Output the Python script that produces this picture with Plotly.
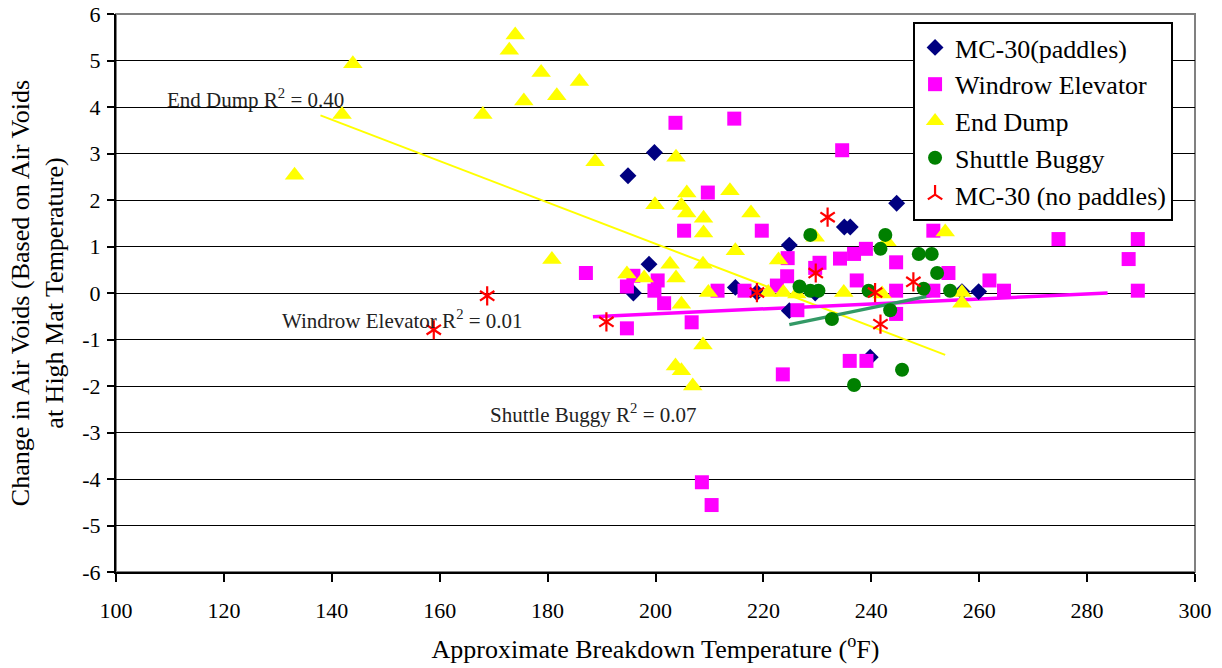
import plotly.graph_objects as pgo

#---
#- Data
#---
mc30_paddles_x = [194.9, 199.8, 198.8, 195.9, 214.8, 218.8, 224.8, 224.8, 235.0, 236.1, 244.7, 239.8, 259.9, 229.6, 256.8]
mc30_paddles_y = [2.52, 3.02, 0.62, 0.0, 0.12, 0.01, 1.03, -0.38, 1.42, 1.42, 1.93, -1.38, 0.03, 0.0, 0.03]

windrow_x = [203.7, 214.6, 234.6, 209.7, 205.3, 219.7, 187.1, 224.5, 230.4, 229.6, 224.4, 222.5, 211.5, 216.5,
             195.9, 194.7, 199.8, 200.4, 201.6, 234.2, 236.8, 239.0, 237.3, 244.6, 244.6, 244.6, 194.7, 206.7,
             223.6, 208.6, 210.4, 251.5, 274.7, 289.4, 287.7, 289.4, 261.9, 264.6, 254.3, 251.5, 226.3, 236.0, 239.1]
windrow_y = [3.66, 3.75, 3.07, 2.16, 1.34, 1.34, 0.43, 0.75, 0.65, 0.54, 0.36, 0.16, 0.05, 0.05,
             0.37, 0.14, 0.05, 0.27, -0.22, 0.74, 0.84, 0.95, 0.27, 0.66, 0.05, -0.45, -0.76, -0.63,
             -1.75, -4.07, -4.56, 1.34, 1.16, 1.16, 0.73, 0.05, 0.27, 0.05, 0.43, 0.05, -0.37, -1.46, -1.46]

end_dump_x = [133.1, 141.9, 143.9, 168.0, 172.9, 174.0, 178.8, 185.9, 175.6, 181.7, 188.8, 203.8, 180.8, 199.9,
              205.8, 204.8, 205.8, 208.9, 208.9, 213.8, 217.7, 214.8, 202.7, 208.8, 194.7, 197.9, 203.8, 209.8,
              204.8, 222.8, 223.7, 220.9, 234.9, 229.6, 242.9, 208.8, 203.7, 204.8, 206.9, 253.7, 226.2, 242.0,
              256.8, 256.8]
end_dump_y = [2.53, 3.84, 4.93, 3.84, 5.22, 5.55, 4.74, 4.55, 4.13, 4.24, 2.82, 2.92, 0.72, 1.90,
              2.15, 1.88, 1.72, 1.61, 1.29, 2.20, 1.72, 0.91, 0.62, 0.62, 0.41, 0.32, 0.32, 0.01,
              -0.24, 0.71, 0.01, 0.01, 0.01, 1.20, 1.10, -1.12, -1.57, -1.67, -2.0, 1.31, -0.02, -0.02,
              0.01, -0.22]

shuttle_x = [228.7, 242.6, 241.7, 248.8, 251.2, 252.2, 226.7, 228.7, 230.2, 239.5, 249.7, 254.6, 243.5, 232.7, 245.7, 236.8]
shuttle_y = [1.25, 1.25, 0.95, 0.84, 0.84, 0.43, 0.14, 0.05, 0.05, 0.05, 0.09, 0.05, -0.37, -0.56, -1.65, -1.98]

mc30_nopad_x = [158.9, 168.8, 190.9, 218.8, 231.9, 229.7, 240.7, 247.8, 241.7]
mc30_nopad_y = [-0.79, -0.06, -0.62, 0.01, 1.63, 0.43, 0.01, 0.24, -0.67]

# linear trendlines (end points as drawn)
end_dump_fit_x = [137.9, 253.7]
end_dump_fit_y = [3.82, -1.33]
windrow_fit_x = [188.4, 283.8]
windrow_fit_y = [-0.51, 0.0]
shuttle_fit_x = [224.8, 251.7]
shuttle_fit_y = [-0.68, -0.04]

r2_labels = ['End Dump', 'Windrow Elevator', 'Shuttle Buggy']
r2_values = [0.40, 0.01, 0.07]

y_tick_vals = [-6, -5, -4, -3, -2, -1, 0, 1, 2, 3, 4, 5, 6]
y_tick_text = ['-6', '-5', '-4', '-3', '-2', '-1', '0', '1', '2', '3', '4', '5', '6']

FONT = 'Liberation Serif'

fig = pgo.Figure()

#---
#- Trendlines
#---
fig.add_trace(pgo.Scatter(x=end_dump_fit_x, y=end_dump_fit_y, mode='lines',
                          line=dict(color='#FFFF00', width=2), showlegend=False, hoverinfo='skip'))
fig.add_trace(pgo.Scatter(x=windrow_fit_x, y=windrow_fit_y, mode='lines',
                          line=dict(color='#FF00FF', width=3.5), showlegend=False, hoverinfo='skip'))
fig.add_trace(pgo.Scatter(x=shuttle_fit_x, y=shuttle_fit_y, mode='lines',
                          line=dict(color='#339966', width=3.5), showlegend=False, hoverinfo='skip'))

#---
#- Point series
#---
fig.add_trace(pgo.Scatter(x=mc30_paddles_x, y=mc30_paddles_y, mode='markers', name='MC-30(paddles)',
                          legendgroup='a', marker=dict(symbol='diamond', size=13, color='#000080')))
fig.add_trace(pgo.Scatter(x=windrow_x, y=windrow_y, mode='markers', name='Windrow Elevator',
                          legendgroup='b', marker=dict(symbol='square', size=14, color='#FF00FF')))
fig.add_trace(pgo.Scatter(x=end_dump_x, y=end_dump_y, mode='markers', name='End Dump',
                          legendgroup='c', marker=dict(symbol='triangle-up', size=17, color='#FFFF00')))
fig.add_trace(pgo.Scatter(x=shuttle_x, y=shuttle_y, mode='markers', name='Shuttle Buggy',
                          legendgroup='d', marker=dict(symbol='circle', size=14, color='#008000')))
# the asterisk is built from two three-armed symbols
fig.add_trace(pgo.Scatter(x=mc30_nopad_x, y=mc30_nopad_y, mode='markers', name='MC-30 (no paddles)',
                          legendgroup='e',
                          marker=dict(symbol='y-up-open', size=12, color='#FF0000',
                                      line=dict(color='#FF0000', width=2.2))))
fig.add_trace(pgo.Scatter(x=mc30_nopad_x, y=mc30_nopad_y, mode='markers', name='MC-30 (no paddles)',
                          legendgroup='e', showlegend=False,
                          marker=dict(symbol='y-down-open', size=12, color='#FF0000',
                                      line=dict(color='#FF0000', width=2.2))))

#---
#- R^2 labels
#---
r2_pos = [(109.0, 4.18), (130.4, -0.56), (169.0, -2.6)]
for lbl, val, (px, py) in zip(r2_labels, r2_values, r2_pos):
    fig.add_annotation(x=px, y=py, xref='x', yref='y', xanchor='left', yanchor='middle', showarrow=False,
                       text=f'{lbl} R<sup>2</sup> = {val:.2f}', font=dict(family=FONT, size=21, color='#222222'))

# grey frame on top / right
fig.add_shape(type='rect', xref='paper', yref='paper', x0=0, x1=1, y0=0, y1=1,
              line=dict(color='#808080', width=2), layer='below')

fig.update_layout(
    width=1222, height=668,
    margin=dict(l=116, r=27, t=14, b=96),
    paper_bgcolor='white', plot_bgcolor='white',
    font=dict(family=FONT, color='black', size=22),
    legend=dict(x=0.7387, y=0.9857, xanchor='left', yanchor='top',
                bgcolor='white', bordercolor='black', borderwidth=2,
                font=dict(family=FONT, size=26), tracegroupgap=0),
    xaxis=dict(range=[100, 300], dtick=20, showgrid=False, zeroline=False, automargin=False,
               showline=True, linecolor='black', linewidth=2,
               ticks='outside', ticklen=8, tickwidth=2, tickcolor='black',
               tickfont=dict(size=22), ticklabelstandoff=10,
               title=dict(text='Approximate Breakdown Temperature (<sup>o</sup>F)',
                          font=dict(size=26), standoff=17)),
    yaxis=dict(range=[-6, 6], tickvals=y_tick_vals, ticktext=y_tick_text,
               showgrid=True, gridcolor='black', gridwidth=1.2, automargin=False,
               zeroline=False, showline=True, linecolor='black', linewidth=2,
               ticks='outside', ticklen=7, tickwidth=2, tickcolor='black',
               tickfont=dict(size=22), ticklabelstandoff=2,
               title=dict(text='Change in Air Voids (Based on Air Voids<br>at High Mat Temperature)',
                          font=dict(size=26), standoff=11)),
)

fig.write_html("out.html", config={'displayModeBar': False},
               post_script="document.body.style.margin='0';")
